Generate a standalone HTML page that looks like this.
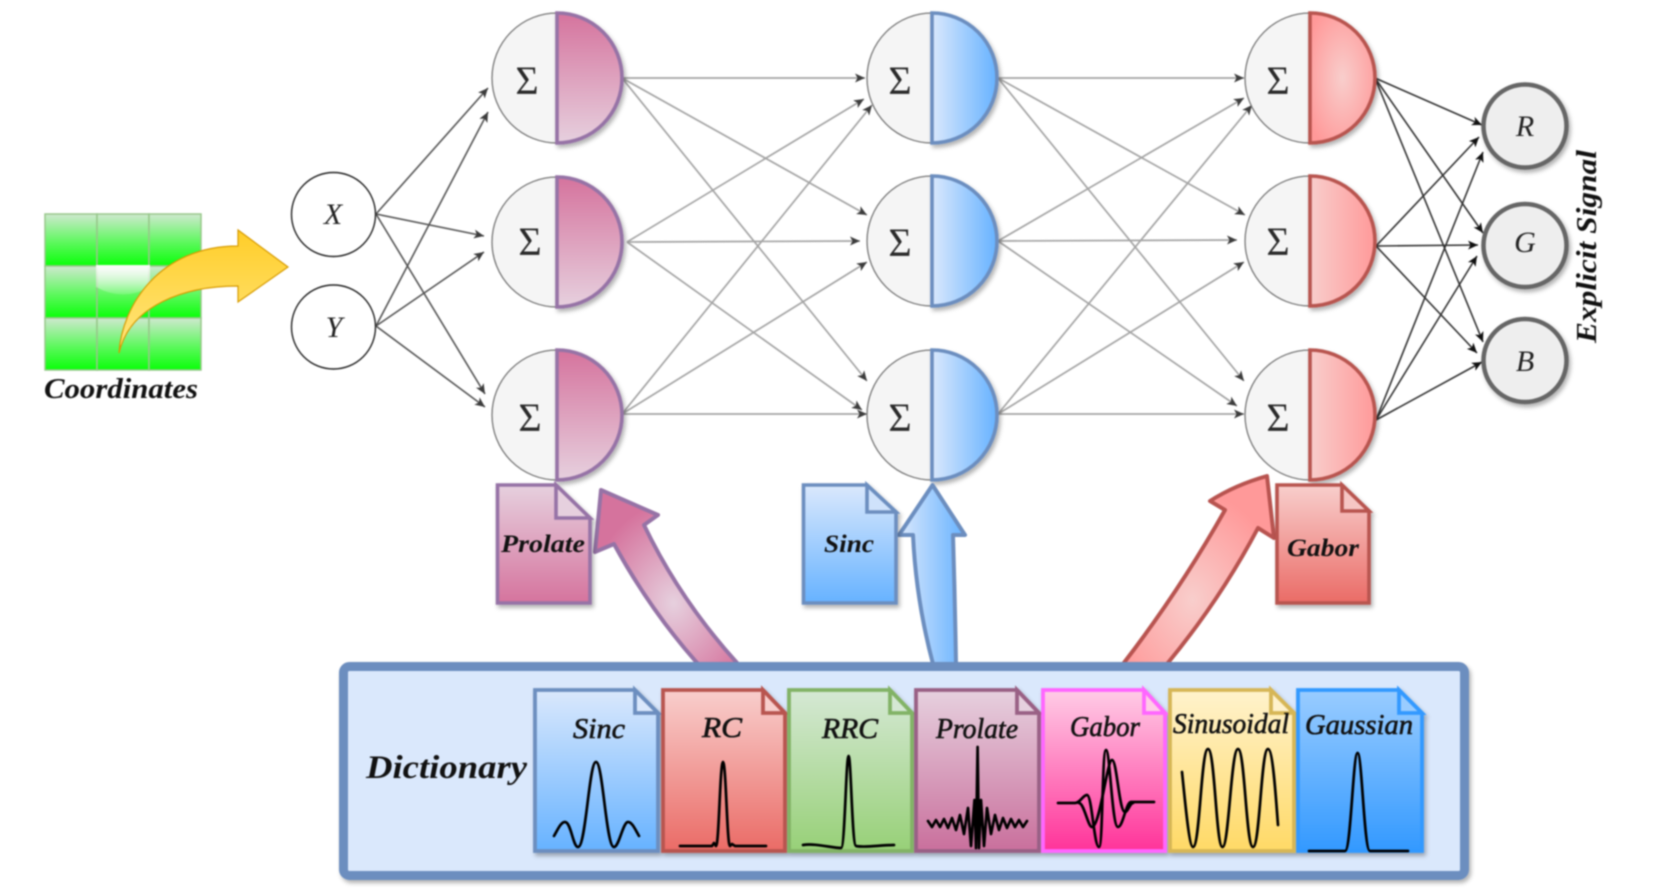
<!DOCTYPE html>
<html>
<head>
<meta charset="utf-8">
<title>Diagram</title>
<style>
html,body{margin:0;padding:0;background:#fff;}
svg{display:block;filter:blur(0.7px);}
text{font-family:"Liberation Serif",serif;fill:#111;}
.b{font-weight:bold;font-style:italic;}
.i{font-style:italic;}
.s{font-size:40px;fill:#2a2a2a;text-anchor:middle;}
.m{font-size:30px;font-style:italic;text-anchor:middle;fill:#222;}
.e1 line{stroke:#a4a4a4;stroke-width:1.7;marker-end:url(#ag);}
.e0 line{stroke:#555;stroke-width:1.6;marker-end:url(#ag);}
.e2 line{stroke:#333;stroke-width:1.6;marker-end:url(#ak);}
.w path{fill:none;stroke:#000;stroke-width:2.7;stroke-linejoin:round;stroke-linecap:round;}
</style>
</head>
<body>
<svg width="1657" height="896" viewBox="0 0 1657 896" xmlns="http://www.w3.org/2000/svg">
<defs>
<marker id="ag" markerUnits="userSpaceOnUse" markerWidth="11" markerHeight="11" refX="10" refY="5" orient="auto"><path d="M0 .5L10 5L0 9.5L2.5 5z" fill="#3c3c3c"/></marker>
<marker id="ak" markerUnits="userSpaceOnUse" markerWidth="11" markerHeight="11" refX="10" refY="5" orient="auto"><path d="M0 .5L10 5L0 9.5L2.5 5z" fill="#111"/></marker>
<filter id="sh" x="-20%" y="-20%" width="145%" height="145%"><feDropShadow dx="2" dy="3" stdDeviation="2" flood-color="#000" flood-opacity=".3"/></filter>
<linearGradient id="cell" x1="0" y1="0" x2="0" y2="1"><stop offset="0" stop-color="#cfe8cf"/><stop offset=".55" stop-color="#5cf85c"/><stop offset="1" stop-color="#0aff0a"/></linearGradient>
<linearGradient id="gloss" x1="0" y1="0" x2="0" y2="1"><stop offset="0" stop-color="#fff" stop-opacity=".95"/><stop offset="1" stop-color="#fff" stop-opacity=".15"/></linearGradient>
<linearGradient id="yel" x1="0" y1="0" x2="0" y2="1"><stop offset="0" stop-color="#ffcd28"/><stop offset="1" stop-color="#ffe680"/></linearGradient>
<linearGradient id="pv" x1="0" y1="0" x2="0" y2="1"><stop offset="0" stop-color="#d5739d"/><stop offset="1" stop-color="#e6d0de"/></linearGradient>
<linearGradient id="bh" x1="0" y1="0" x2="1" y2="0"><stop offset="0" stop-color="#dae8fc"/><stop offset="1" stop-color="#66b2ff"/></linearGradient>
<linearGradient id="rh" x1="0" y1="0" x2="1" y2="0"><stop offset="0" stop-color="#f8cecc"/><stop offset="1" stop-color="#ff9999"/></linearGradient>
<radialGradient id="rr" cx=".5" cy=".5" r=".6"><stop offset="0" stop-color="#f8cecc"/><stop offset="1" stop-color="#ff9999"/></radialGradient>
<radialGradient id="pr" cx=".55" cy=".65" r=".58"><stop offset="0" stop-color="#e6d0de"/><stop offset="1" stop-color="#d5739d"/></radialGradient>
<radialGradient id="rra" cx=".46" cy=".66" r=".58"><stop offset="0" stop-color="#f8cecc"/><stop offset="1" stop-color="#ff9999"/></radialGradient>
<linearGradient id="dp" x1="0" y1="0" x2="0" y2="1"><stop offset="0" stop-color="#e6d0de"/><stop offset="1" stop-color="#d5739d"/></linearGradient>
<linearGradient id="db" x1="0" y1="0" x2="0" y2="1"><stop offset="0" stop-color="#dae8fc"/><stop offset="1" stop-color="#66b2ff"/></linearGradient>
<linearGradient id="dr" x1="0" y1="0" x2="0" y2="1"><stop offset="0" stop-color="#f8cecc"/><stop offset="1" stop-color="#ea6b66"/></linearGradient>
<linearGradient id="dg" x1="0" y1="0" x2="0" y2="1"><stop offset="0" stop-color="#d5e8d4"/><stop offset="1" stop-color="#97d077"/></linearGradient>
<linearGradient id="dpp" x1="0" y1="0" x2="0" y2="1"><stop offset="0" stop-color="#e6d0de"/><stop offset="1" stop-color="#c96f9c"/></linearGradient>
<linearGradient id="dm" x1="0" y1="0" x2="0" y2="1"><stop offset="0" stop-color="#ffcce6"/><stop offset="1" stop-color="#ff3399"/></linearGradient>
<linearGradient id="dy" x1="0" y1="0" x2="0" y2="1"><stop offset="0" stop-color="#fff2cc"/><stop offset="1" stop-color="#ffd966"/></linearGradient>
<linearGradient id="dd" x1="0" y1="0" x2="0" y2="1"><stop offset="0" stop-color="#99ccff"/><stop offset="1" stop-color="#3399ff"/></linearGradient>
</defs>

<!-- Coordinates grid -->
<g stroke="#97c78a" stroke-width="1.5" fill="url(#cell)">
<rect x="45" y="214" width="52" height="52"/><rect x="97" y="214" width="52" height="52"/><rect x="149" y="214" width="52" height="52"/>
<rect x="45" y="266" width="52" height="52"/><rect x="97" y="266" width="52" height="52"/><rect x="149" y="266" width="52" height="52"/>
<rect x="45" y="318" width="52" height="52"/><rect x="97" y="318" width="52" height="52"/><rect x="149" y="318" width="52" height="52"/>
</g>
<path d="M96 265H150V287Q123 302 96 287Z" fill="url(#gloss)"/>
<path d="M119 353C122 305 160 246 238 246V230L288 267L238 302V286C185 286 130 305 119 353Z" fill="url(#yel)" stroke="#d79b00" stroke-width="1.2"/>
<text class="b" x="44" y="398" font-size="28" textLength="154" lengthAdjust="spacingAndGlyphs">Coordinates</text>

<!-- Input edges -->
<g class="e0">
<line x1="376" y1="214" x2="488" y2="88"/>
<line x1="376" y1="214" x2="484" y2="236"/>
<line x1="376" y1="214" x2="485" y2="394"/>
<line x1="376" y1="326" x2="488" y2="112"/>
<line x1="376" y1="326" x2="484" y2="252"/>
<line x1="376" y1="326" x2="485" y2="407"/>
</g>
<circle cx="333.500" cy="214.500" r="42" fill="#fff" stroke="#222" stroke-width="1.4"/>
<circle cx="333.500" cy="327" r="42" fill="#fff" stroke="#222" stroke-width="1.4"/>
<text class="m" x="333" y="224">X</text>
<text class="m" x="334" y="337">Y</text>

<!-- Layer edges -->
<g class="e1">
<line x1="622" y1="78" x2="865" y2="78"/>
<line x1="622" y1="78" x2="867" y2="215"/>
<line x1="622" y1="78" x2="867" y2="381"/>
<line x1="627" y1="242" x2="864" y2="99"/>
<line x1="627" y1="242" x2="860" y2="241"/>
<line x1="627" y1="242" x2="862" y2="410"/>
<line x1="622" y1="414" x2="872" y2="105"/>
<line x1="622" y1="414" x2="867" y2="262"/>
<line x1="622" y1="414" x2="867" y2="414"/>
<line x1="998" y1="78" x2="1244" y2="78"/>
<line x1="998" y1="78" x2="1245" y2="215"/>
<line x1="998" y1="78" x2="1244" y2="381"/>
<line x1="998" y1="241" x2="1244" y2="98"/>
<line x1="998" y1="241" x2="1237" y2="240"/>
<line x1="998" y1="241" x2="1237" y2="406"/>
<line x1="998" y1="414" x2="1252" y2="105"/>
<line x1="998" y1="414" x2="1244" y2="262"/>
<line x1="998" y1="414" x2="1244" y2="414"/>
</g>
<g class="e2">
<line x1="1375" y1="78" x2="1482" y2="125"/>
<line x1="1375" y1="78" x2="1483" y2="233"/>
<line x1="1375" y1="78" x2="1483" y2="342"/>
<line x1="1376" y1="246" x2="1479" y2="137"/>
<line x1="1376" y1="246" x2="1478" y2="245"/>
<line x1="1376" y1="246" x2="1477" y2="353"/>
<line x1="1376" y1="420" x2="1483" y2="152"/>
<line x1="1376" y1="420" x2="1477" y2="256"/>
<line x1="1376" y1="420" x2="1482" y2="362"/>
</g>

<!-- Sigma nodes -->
<g stroke="#777" stroke-width="1.3" fill="#f5f5f5">
<path d="M557 13A65 65 0 0 0 557 143Z"/><path d="M557 177A65 65 0 0 0 557 307Z"/><path d="M557 350A65 65 0 0 0 557 480Z"/>
<path d="M932 13A65 65 0 0 0 932 143Z"/><path d="M932 176A65 65 0 0 0 932 306Z"/><path d="M932 350A65 65 0 0 0 932 480Z"/>
<path d="M1310 13A65 65 0 0 0 1310 143Z"/><path d="M1310 176A65 65 0 0 0 1310 306Z"/><path d="M1310 350A65 65 0 0 0 1310 480Z"/>
</g>
<g stroke="#9673a6" stroke-width="3.6" fill="url(#pv)" filter="url(#sh)">
<path d="M557 13A65 65 0 0 1 557 143Z"/><path d="M557 177A65 65 0 0 1 557 307Z"/><path d="M557 350A65 65 0 0 1 557 480Z"/>
</g>
<g stroke="#6c8ebf" stroke-width="3.6" fill="url(#bh)" filter="url(#sh)">
<path d="M932 13A65 65 0 0 1 932 143Z"/><path d="M932 176A65 65 0 0 1 932 306Z"/><path d="M932 350A65 65 0 0 1 932 480Z"/>
</g>
<g stroke="#b85450" stroke-width="3.6" filter="url(#sh)">
<path d="M1310 13A65 65 0 0 1 1310 143Z" fill="url(#rr)"/><path d="M1310 176A65 65 0 0 1 1310 306Z" fill="url(#rh)"/><path d="M1310 350A65 65 0 0 1 1310 480Z" fill="url(#rh)"/>
</g>
<text class="s" x="527" y="94">Σ</text><text class="s" x="530" y="255">Σ</text><text class="s" x="530" y="431">Σ</text>
<text class="s" x="900" y="94">Σ</text><text class="s" x="900" y="256">Σ</text><text class="s" x="900" y="431">Σ</text>
<text class="s" x="1278" y="94">Σ</text><text class="s" x="1278" y="255">Σ</text><text class="s" x="1278" y="431">Σ</text>

<!-- Outputs -->
<g fill="#eee" stroke="#666" stroke-width="4.5" filter="url(#sh)">
<circle cx="1525" cy="126" r="41.5"/><circle cx="1525" cy="245.500" r="41.5"/><circle cx="1525" cy="360.500" r="41.5"/>
</g>
<text class="m" x="1525" y="136">R</text><text class="m" x="1525" y="252">G</text><text class="m" x="1525" y="371">B</text>
<text class="b" transform="translate(1596,343) rotate(-90)" font-size="29" textLength="193" lengthAdjust="spacingAndGlyphs">Explicit Signal</text>

<!-- Big arrows -->
<path d="M601 490L658 515L644 525Q680 600 738 664H698Q650 610 614 544L595 552Z" fill="url(#pr)" stroke="#9673a6" stroke-width="4" stroke-linejoin="round"/>
<path d="M932.5 485L965 535H953Q955 600 956 664H933Q916 600 913 535H899Z" fill="url(#bh)" stroke="#6c8ebf" stroke-width="4" stroke-linejoin="round"/>
<path d="M1267 476L1274 538L1258 528Q1220 600 1167 664H1123Q1180 590 1225 510L1210 501Q1235 485 1267 476Z" fill="url(#rra)" stroke="#b85450" stroke-width="4" stroke-linejoin="round"/>

<!-- Labelled documents -->
<g stroke-width="3.6" filter="url(#sh)">
<path d="M497.5 485H556L590 518V603H497.5Z" fill="url(#dp)" stroke="#9673a6"/><path d="M556 485V518H590Z" fill="#e6d0de" stroke="#9673a6"/>
<path d="M803.5 485H867L896 512V603H803.5Z" fill="url(#db)" stroke="#6c8ebf"/><path d="M867 485V512H896Z" fill="#cfe2fb" stroke="#6c8ebf"/>
<path d="M1277 485H1342L1369 511V603H1277Z" fill="url(#dr)" stroke="#b85450"/><path d="M1342 485V511H1369Z" fill="#f6c6c4" stroke="#b85450"/>
</g>
<text class="b" x="501" y="552" font-size="25" textLength="84" lengthAdjust="spacingAndGlyphs">Prolate</text>
<text class="b" x="824" y="552" font-size="25" textLength="50" lengthAdjust="spacingAndGlyphs">Sinc</text>
<text class="b" x="1287" y="556" font-size="25" textLength="72" lengthAdjust="spacingAndGlyphs">Gabor</text>

<!-- Dictionary -->
<rect x="343.5" y="666.5" width="1121" height="209" rx="6" fill="#dae8fc" stroke="#6c8ebf" stroke-width="9" filter="url(#sh)"/>
<text class="b" x="366" y="778" font-size="33" textLength="161" lengthAdjust="spacingAndGlyphs">Dictionary</text>

<g stroke-width="3.8" filter="url(#sh)">
<path d="M535 690H635L658 713V851H535Z" fill="url(#db)" stroke="#6c8ebf"/><path d="M635 690V713H658Z" fill="#dae8fc" stroke="#6c8ebf"/>
<path d="M663 690H763L785 713V851H663Z" fill="url(#dr)" stroke="#b85450"/><path d="M763 690V713H785Z" fill="#f8cecc" stroke="#b85450"/>
<path d="M789 690H890L912 713V851H789Z" fill="url(#dg)" stroke="#82b366"/><path d="M890 690V713H912Z" fill="#d5e8d4" stroke="#82b366"/>
<path d="M916 690H1017L1039 713V851H916Z" fill="url(#dpp)" stroke="#996185"/><path d="M1017 690V713H1039Z" fill="#e6d0de" stroke="#996185"/>
<path d="M1043 690H1144L1165 713V851H1043Z" fill="url(#dm)" stroke="#ff66ff"/><path d="M1144 690V713H1165Z" fill="#ffcce6" stroke="#ff66ff"/>
<path d="M1170 690H1271L1294 713V851H1170Z" fill="url(#dy)" stroke="#d6b656"/><path d="M1271 690V713H1294Z" fill="#fff2cc" stroke="#d6b656"/>
<path d="M1298 690H1399L1422 713V851H1298Z" fill="url(#dd)" stroke="#3399ff"/><path d="M1399 690V713H1422Z" fill="#99ccff" stroke="#3399ff"/>
</g>

<g class="i" font-size="28" stroke="#111" stroke-width=".6">
<text x="573" y="738" textLength="52" lengthAdjust="spacingAndGlyphs">Sinc</text>
<text x="702" y="737" textLength="40" lengthAdjust="spacingAndGlyphs">RC</text>
<text x="822" y="738" textLength="56" lengthAdjust="spacingAndGlyphs">RRC</text>
<text x="936" y="738" textLength="82" lengthAdjust="spacingAndGlyphs">Prolate</text>
<text x="1070" y="736" textLength="70" lengthAdjust="spacingAndGlyphs">Gabor</text>
<text x="1173" y="733" textLength="116" lengthAdjust="spacingAndGlyphs">Sinusoidal</text>
<text x="1305" y="734" textLength="108" lengthAdjust="spacingAndGlyphs">Gaussian</text>
</g>

<!-- Waveforms -->
<g class="w">
<path d="M554 836C558 829 561 822 565 822C571 822 573 847 578 847C586 847 589 762 596 762C603 762 606 847 614 847C619 847 623 822 628 822C632 822 635 829 639 836"/>
<path d="M680 846H712L714 843L716 846C719 846 720 762 723 762C726 762 727 846 730 846L732 844L735 846H766"/>
<path d="M803 845C815 843 832 848 841 848C845 848 846 756 848.6 756C851 756 852 845 856 846C865 848 880 845 894 845"/>
<path d="M928 821L932 827L936 820L940 827L944 819L948 828L952 818L956 830L960 815L964 834L968 808L971 846L974.500 800L976 848L977.600 747L979 848L981 800L984 846L987 808L991 834L995 815L999 830L1003 818L1007 828L1011 819L1015 827L1019 820L1023 827L1027 821"/>
<path d="M1058 803H1075C1080 803 1083 795 1087 795C1092 795 1094 847 1099 847C1103 847 1102 750 1106 750C1110 750 1112 827 1118 827C1123 827 1126 802 1131 802H1154"/>
<path d="M1079 803C1084 803 1088 827 1092 827C1100 827 1107 760 1112 760C1117 760 1119 812 1125 812C1128 812 1130 803 1133 803"/>
<path d="M1182 772C1185 800 1189 847 1193 847C1200 847 1201 749 1208 749C1215 749 1216 847 1222.500 847C1229 847 1231 749 1238 749C1245 749 1246 847 1253 847C1260 847 1261 749 1268 749C1273 749 1276 800 1278 825"/>
<path d="M1309 851H1345C1351 851 1353 753 1357.600 753C1362 753 1364 851 1370 851H1408"/>
</g>
</svg>
</body>
</html>
